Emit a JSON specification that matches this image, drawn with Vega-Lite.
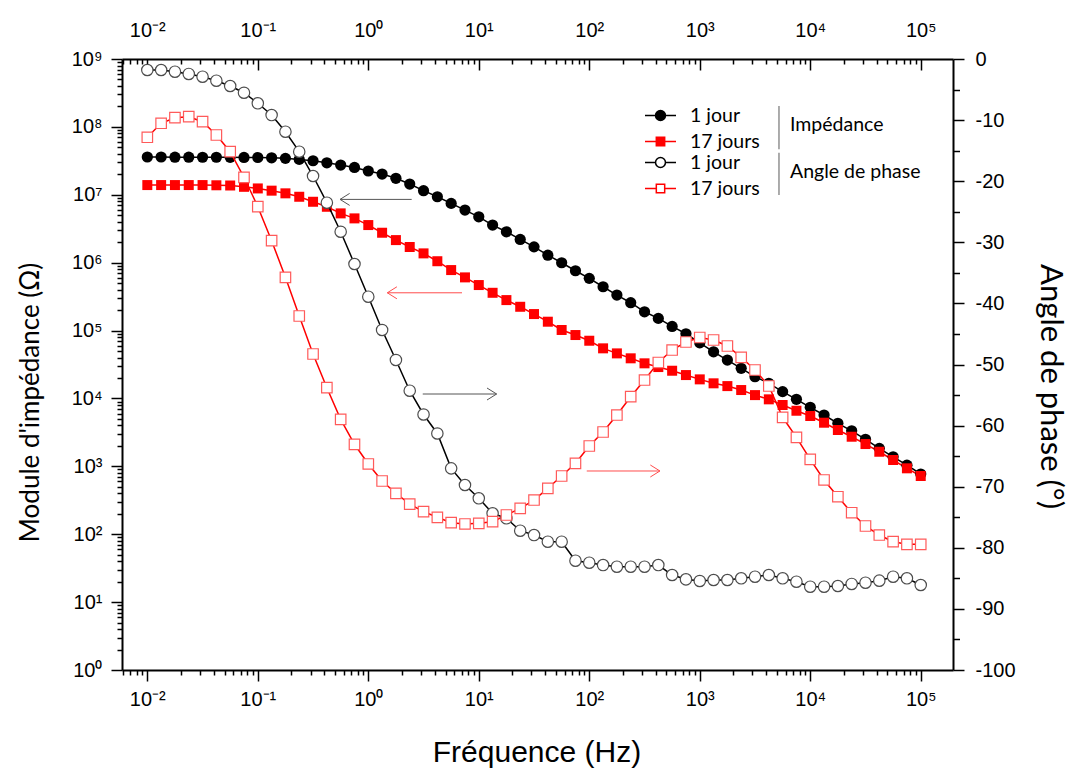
{
 "$schema": "https://vega.github.io/schema/vega-lite/v6.json",
 "width": 831,
 "height": 611,
 "autosize": {"type": "none"},
 "padding": {"left": 122, "top": 59, "right": 117, "bottom": 99},
 "background": "white",
 "config": {
  "view": {"stroke": null},
  "axis": {"domainColor": "#000000", "domainWidth": 2, "tickColor": "#000000", "tickWidth": 1.5, "labelFont": "Liberation Sans", "labelFontSize": 20, "labelColor": "#000000", "titleColor": "#000000", "titleFontWeight": "normal", "grid": false, "labelOverlap": false, "labelFlush": false, "labelBound": false},
  "legend": {"labelFont": "Lato", "labelFontSize": 19.5, "labelColor": "#000000", "titleFont": "Lato", "titleFontSize": 19.5, "titleFontWeight": "normal", "titleColor": "#000000"}
 },
 "datasets": {
  "eis": [
   {"f":0.01,"s":"Z1","v":36000000},{"f":0.013335,"s":"Z1","v":36000000},{"f":0.017783,"s":"Z1","v":35800000},{"f":0.023714,"s":"Z1","v":35800000},{"f":0.031623,"s":"Z1","v":35700000},{"f":0.04217,"s":"Z1","v":35700000},{"f":0.056234,"s":"Z1","v":35600000},{"f":0.074989,"s":"Z1","v":35500000},{"f":0.1,"s":"Z1","v":35400000},{"f":0.13335,"s":"Z1","v":35000000},
   {"f":0.17783,"s":"Z1","v":34400000},{"f":0.23714,"s":"Z1","v":33200000},{"f":0.31623,"s":"Z1","v":31700000},{"f":0.4217,"s":"Z1","v":29600000},{"f":0.56234,"s":"Z1","v":27400000},{"f":0.74989,"s":"Z1","v":25300000},{"f":1,"s":"Z1","v":22400000},{"f":1.3335,"s":"Z1","v":20200000},{"f":1.7783,"s":"Z1","v":17500000},{"f":2.3714,"s":"Z1","v":14400000},
   {"f":3.1623,"s":"Z1","v":11500000},{"f":4.217,"s":"Z1","v":9350000},{"f":5.6234,"s":"Z1","v":7470000},{"f":7.4989,"s":"Z1","v":5950000},{"f":10,"s":"Z1","v":4740000},{"f":13.335,"s":"Z1","v":3580000},{"f":17.783,"s":"Z1","v":2850000},{"f":23.714,"s":"Z1","v":2200000},{"f":31.623,"s":"Z1","v":1710000},{"f":42.17,"s":"Z1","v":1290000},
   {"f":56.234,"s":"Z1","v":997000},{"f":74.989,"s":"Z1","v":760000},{"f":100,"s":"Z1","v":587000},{"f":133.35,"s":"Z1","v":442000},{"f":177.83,"s":"Z1","v":333000},{"f":237.14,"s":"Z1","v":257000},{"f":316.23,"s":"Z1","v":189000},{"f":421.7,"s":"Z1","v":151000},{"f":562.34,"s":"Z1","v":115000},{"f":749.89,"s":"Z1","v":89700},
   {"f":1000,"s":"Z1","v":66000},{"f":1333.5,"s":"Z1","v":48700},{"f":1778.3,"s":"Z1","v":36800},{"f":2371.4,"s":"Z1","v":27800},{"f":3162.3,"s":"Z1","v":20900},{"f":4217,"s":"Z1","v":16700},{"f":5623.4,"s":"Z1","v":12600},{"f":7498.9,"s":"Z1","v":9700},{"f":10000,"s":"Z1","v":7400},{"f":13335,"s":"Z1","v":5700},
   {"f":17783,"s":"Z1","v":4300},{"f":23714,"s":"Z1","v":3340},{"f":31623,"s":"Z1","v":2500},{"f":42170,"s":"Z1","v":1840},{"f":56234,"s":"Z1","v":1380},{"f":74989,"s":"Z1","v":1040},{"f":100000,"s":"Z1","v":771},

   {"f":0.01,"s":"Z17","v":13900000},{"f":0.013335,"s":"Z17","v":13900000},{"f":0.017783,"s":"Z17","v":13900000},{"f":0.023714,"s":"Z17","v":13900000},{"f":0.031623,"s":"Z17","v":13900000},{"f":0.04217,"s":"Z17","v":13800000},{"f":0.056234,"s":"Z17","v":13700000},{"f":0.074989,"s":"Z17","v":13100000},{"f":0.1,"s":"Z17","v":12400000},{"f":0.13335,"s":"Z17","v":11500000},
   {"f":0.17783,"s":"Z17","v":10500000},{"f":0.23714,"s":"Z17","v":9350000},{"f":0.31623,"s":"Z17","v":7890000},{"f":0.4217,"s":"Z17","v":6660000},{"f":0.56234,"s":"Z17","v":5320000},{"f":0.74989,"s":"Z17","v":4490000},{"f":1,"s":"Z17","v":3580000},{"f":1.3335,"s":"Z17","v":2760000},{"f":1.7783,"s":"Z17","v":2150000},{"f":2.3714,"s":"Z17","v":1700000},
   {"f":3.1623,"s":"Z17","v":1370000},{"f":4.217,"s":"Z17","v":1050000},{"f":5.6234,"s":"Z17","v":778000},{"f":7.4989,"s":"Z17","v":607000},{"f":10,"s":"Z17","v":468000},{"f":13.335,"s":"Z17","v":360000},{"f":17.783,"s":"Z17","v":281000},{"f":23.714,"s":"Z17","v":224000},{"f":31.623,"s":"Z17","v":175000},{"f":42.17,"s":"Z17","v":135000},
   {"f":56.234,"s":"Z17","v":102000},{"f":74.989,"s":"Z17","v":85900},{"f":100,"s":"Z17","v":70800},{"f":133.35,"s":"Z17","v":54700},{"f":177.83,"s":"Z17","v":46100},{"f":237.14,"s":"Z17","v":39000},{"f":316.23,"s":"Z17","v":32900},{"f":421.7,"s":"Z17","v":29000},{"f":562.34,"s":"Z17","v":25600},{"f":749.89,"s":"Z17","v":22100},
   {"f":1000,"s":"Z17","v":19100},{"f":1333.5,"s":"Z17","v":16700},{"f":1778.3,"s":"Z17","v":15200},{"f":2371.4,"s":"Z17","v":13300},{"f":3162.3,"s":"Z17","v":11200},{"f":4217,"s":"Z17","v":9700},{"f":5623.4,"s":"Z17","v":8000},{"f":7498.9,"s":"Z17","v":6590},{"f":10000,"s":"Z17","v":5510},{"f":13335,"s":"Z17","v":4390},
   {"f":17783,"s":"Z17","v":3430},{"f":23714,"s":"Z17","v":2730},{"f":31623,"s":"Z17","v":2130},{"f":42170,"s":"Z17","v":1640},{"f":56234,"s":"Z17","v":1240},{"f":74989,"s":"Z17","v":935},{"f":100000,"s":"Z17","v":720},

   {"f":0.01,"s":"P1","v":-1.8},{"f":0.013335,"s":"P1","v":-1.8},{"f":0.017783,"s":"P1","v":-2.08},{"f":0.023714,"s":"P1","v":-2.45},{"f":0.031623,"s":"P1","v":-2.9},{"f":0.04217,"s":"P1","v":-3.55},{"f":0.056234,"s":"P1","v":-4.42},{"f":0.074989,"s":"P1","v":-5.52},{"f":0.1,"s":"P1","v":-7.25},{"f":0.13335,"s":"P1","v":-9.17},
   {"f":0.17783,"s":"P1","v":-11.9},{"f":0.23714,"s":"P1","v":-15.17},{"f":0.31623,"s":"P1","v":-19.15},{"f":0.4217,"s":"P1","v":-23.52},{"f":0.56234,"s":"P1","v":-28.27},{"f":0.74989,"s":"P1","v":-33.55},{"f":1,"s":"P1","v":-38.9},{"f":1.3335,"s":"P1","v":-44.35},{"f":1.7783,"s":"P1","v":-49.26},{"f":2.3714,"s":"P1","v":-54.29},
   {"f":3.1623,"s":"P1","v":-58.18},{"f":4.217,"s":"P1","v":-61.29},{"f":5.6234,"s":"P1","v":-67.0},{"f":7.4989,"s":"P1","v":-69.72},{"f":10,"s":"P1","v":-71.9},{"f":13.335,"s":"P1","v":-74.35},{"f":17.783,"s":"P1","v":-75.17},{"f":23.714,"s":"P1","v":-77.2},{"f":31.623,"s":"P1","v":-77.91},{"f":42.17,"s":"P1","v":-79.0},
   {"f":56.234,"s":"P1","v":-79.0},{"f":74.989,"s":"P1","v":-82.11},{"f":100,"s":"P1","v":-82.44},{"f":133.35,"s":"P1","v":-82.82},{"f":177.83,"s":"P1","v":-83.09},{"f":237.14,"s":"P1","v":-83.09},{"f":316.23,"s":"P1","v":-83.09},{"f":421.7,"s":"P1","v":-82.82},{"f":562.34,"s":"P1","v":-84.45},{"f":749.89,"s":"P1","v":-85.16},
   {"f":1000,"s":"P1","v":-85.43},{"f":1333.5,"s":"P1","v":-85.27},{"f":1778.3,"s":"P1","v":-85.27},{"f":2371.4,"s":"P1","v":-84.99},{"f":3162.3,"s":"P1","v":-84.73},{"f":4217,"s":"P1","v":-84.45},{"f":5623.4,"s":"P1","v":-84.99},{"f":7498.9,"s":"P1","v":-85.55},{"f":10000,"s":"P1","v":-86.37},{"f":13335,"s":"P1","v":-86.37},
   {"f":17783,"s":"P1","v":-86.25},{"f":23714,"s":"P1","v":-85.92},{"f":31623,"s":"P1","v":-85.71},{"f":42170,"s":"P1","v":-85.38},{"f":56234,"s":"P1","v":-84.73},{"f":74989,"s":"P1","v":-84.99},{"f":100000,"s":"P1","v":-86.09},

   {"f":0.01,"s":"P17","v":-12.81},{"f":0.013335,"s":"P17","v":-10.52},{"f":0.017783,"s":"P17","v":-9.61},{"f":0.023714,"s":"P17","v":-9.44},{"f":0.031623,"s":"P17","v":-10.26},{"f":0.04217,"s":"P17","v":-12.44},{"f":0.056234,"s":"P17","v":-15.17},{"f":0.074989,"s":"P17","v":-19.36},{"f":0.1,"s":"P17","v":-24.17},{"f":0.13335,"s":"P17","v":-29.74},
   {"f":0.17783,"s":"P17","v":-35.73},{"f":0.23714,"s":"P17","v":-42.06},{"f":0.31623,"s":"P17","v":-48.28},{"f":0.4217,"s":"P17","v":-53.8},{"f":0.56234,"s":"P17","v":-58.97},{"f":0.74989,"s":"P17","v":-63.06},{"f":1,"s":"P17","v":-66.28},{"f":1.3335,"s":"P17","v":-69.07},{"f":1.7783,"s":"P17","v":-71.08},{"f":2.3714,"s":"P17","v":-72.86},
   {"f":3.1623,"s":"P17","v":-74.09},{"f":4.217,"s":"P17","v":-75.01},{"f":5.6234,"s":"P17","v":-75.89},{"f":7.4989,"s":"P17","v":-76.1},{"f":10,"s":"P17","v":-75.99},{"f":13.335,"s":"P17","v":-75.73},{"f":17.783,"s":"P17","v":-74.63},{"f":23.714,"s":"P17","v":-73.54},{"f":31.623,"s":"P17","v":-72.18},{"f":42.17,"s":"P17","v":-70.26},
   {"f":56.234,"s":"P17","v":-68.25},{"f":74.989,"s":"P17","v":-66.17},{"f":100,"s":"P17","v":-63.34},{"f":133.35,"s":"P17","v":-61.05},{"f":177.83,"s":"P17","v":-58.27},{"f":237.14,"s":"P17","v":-55.27},{"f":316.23,"s":"P17","v":-52.54},{"f":421.7,"s":"P17","v":-49.67},{"f":562.34,"s":"P17","v":-47.63},{"f":749.89,"s":"P17","v":-46.32},
   {"f":1000,"s":"P17","v":-45.58},{"f":1333.5,"s":"P17","v":-45.99},{"f":1778.3,"s":"P17","v":-46.97},{"f":2371.4,"s":"P17","v":-48.82},{"f":3162.3,"s":"P17","v":-50.9},{"f":4217,"s":"P17","v":-53.52},{"f":5623.4,"s":"P17","v":-58.64},{"f":7498.9,"s":"P17","v":-61.92},{"f":10000,"s":"P17","v":-65.52},{"f":13335,"s":"P17","v":-68.9},
   {"f":17783,"s":"P17","v":-71.64},{"f":23714,"s":"P17","v":-74.26},{"f":31623,"s":"P17","v":-76.43},{"f":42170,"s":"P17","v":-77.91},{"f":56234,"s":"P17","v":-79.0},{"f":74989,"s":"P17","v":-79.43},{"f":100000,"s":"P17","v":-79.43}
  ]
 },
 "data": {"name": "eis"},
 "layer": [
  {
   "encoding": {
    "x": {"field": "f", "type": "quantitative",
     "scale": {"type": "log", "domain": [0.0059, 195900], "nice": false},
     "axis": {"orient": "bottom", "title": "Fréquence (Hz)", "titleFont": "Liberation Sans", "titleFontSize": 30, "titleX": 414.5, "titleY": 82, "titleBaseline": "middle", "titleAlign": "center", "titleAngle": 0,
      "values": [0.006,0.007,0.008,0.009,0.01,0.02,0.03,0.04,0.05,0.06,0.07,0.08,0.09,0.1,0.2,0.3,0.4,0.5,0.6,0.7,0.8,0.9,1,2,3,4,5,6,7,8,9,10,20,30,40,50,60,70,80,90,100,200,300,400,500,600,700,800,900,1000,2000,3000,4000,5000,6000,7000,8000,9000,10000,20000,30000,40000,50000,60000,70000,80000,90000,100000],
      "labelExpr": "abs(log(datum.value)/LN10 - round(log(datum.value)/LN10)) < 0.001 ? (round(log(datum.value)/LN10) < 0 ? '10⁻' + ['⁰','¹','²','³','⁴','⁵','⁶','⁷','⁸','⁹'][-round(log(datum.value)/LN10)] : '10' + ['⁰','¹','²','³','⁴','⁵','⁶','⁷','⁸','⁹'][round(log(datum.value)/LN10)]) : ''",
      "labelBaseline": "top", "labelPadding": 8,
      "tickSize": {"condition": {"test": "abs(log(datum.value)/LN10 - round(log(datum.value)/LN10)) < 0.001", "value": 11}, "value": 5}}},
    "y": {"field": "v", "type": "quantitative",
     "scale": {"type": "log", "domain": [1, 1000000000], "nice": false},
     "axis": {"orient": "left", "title": "Module d'impédance (Ω)", "titleFont": "Lato", "titleFontSize": 26, "titleX": -92, "titleY": 343, "titleAngle": -90, "titleBaseline": "middle", "titleAlign": "center",
      "values": [1,2,3,4,5,6,7,8,9,10,20,30,40,50,60,70,80,90,100,200,300,400,500,600,700,800,900,1000,2000,3000,4000,5000,6000,7000,8000,9000,10000,20000,30000,40000,50000,60000,70000,80000,90000,100000,200000,300000,400000,500000,600000,700000,800000,900000,1000000,2000000,3000000,4000000,5000000,6000000,7000000,8000000,9000000,10000000,20000000,30000000,40000000,50000000,60000000,70000000,80000000,90000000,100000000,200000000,300000000,400000000,500000000,600000000,700000000,800000000,900000000,1000000000],
      "labelExpr": "abs(log(datum.value)/LN10 - round(log(datum.value)/LN10)) < 0.001 ? '10' + ['⁰','¹','²','³','⁴','⁵','⁶','⁷','⁸','⁹'][round(log(datum.value)/LN10)] : ''",
      "labelPadding": 9,
      "tickSize": {"condition": {"test": "abs(log(datum.value)/LN10 - round(log(datum.value)/LN10)) < 0.001", "value": 11}, "value": 5}}}
   },
   "layer": [
    {"transform": [{"filter": "datum.s === 'Z1' || datum.s === 'Z17'"}],
     "mark": {"type": "line", "strokeWidth": 1.5},
     "encoding": {"color": {"field": "s", "type": "nominal", "scale": {"domain": ["Z1", "Z17"], "range": ["#000000", "#ff0000"]},
      "legend": {"title": "Impédance", "orient": "none", "legendX": 522, "legendY": 40, "direction": "vertical", "titleOrient": "right", "titleAnchor": "middle", "titleBaseline": "middle", "titlePadding": 30, "padding": 0, "rowPadding": -7, "labelOffset": 13, "symbolSize": 961,
       "labelExpr": "datum.value === 'Z1' ? '1 jour' : '17 jours'",
       "encode": {"symbols": {"update": {
        "shape": {"signal": "datum.value === 'Z1' ? 'M-1,0H-0.32M0.32,0H1M0.32,0A0.32,0.32,0,1,1,-0.32,0A0.32,0.32,0,1,1,0.32,0Z' : 'M-1,0H-0.27M0.27,0H1M-0.27,-0.27H0.27V0.27H-0.27Z'"},
        "fill": {"signal": "datum.value === 'Z1' ? '#000000' : '#ff0000'"},
        "stroke": {"signal": "datum.value === 'Z1' ? '#000000' : '#ff0000'"},
        "strokeWidth": {"value": 1.5}, "size": {"value": 961}, "opacity": {"value": 1}, "fillOpacity": {"value": 1}, "strokeOpacity": {"value": 1}}}}}}}},
    {"transform": [{"filter": "datum.s === 'Z1'"}],
     "mark": {"type": "point", "shape": "circle", "filled": true, "color": "#000000", "size": 126, "opacity": 1}},
    {"transform": [{"filter": "datum.s === 'Z17'"}],
     "mark": {"type": "point", "shape": "square", "filled": true, "color": "#ff0000", "size": 100, "opacity": 1}},
    {"transform": [{"filter": "datum.s === 'Z1' && datum.f === 0.01"}], "mark": {"type": "rule", "color": "#555555", "strokeWidth": 1},
     "encoding": {"x": {"datum": 0.555, "type": "quantitative"}, "x2": {"datum": 2.47}, "y": {"datum": 8550000, "type": "quantitative"}}},
    {"transform": [{"filter": "datum.s === 'Z1' && datum.f === 0.01"}], "mark": {"type": "point", "shape": "M1.6,-1L0,0L1.6,1", "filled": false, "stroke": "#555555", "strokeWidth": 1, "size": 144, "opacity": 1},
     "encoding": {"x": {"datum": 0.555, "type": "quantitative"}, "y": {"datum": 8550000, "type": "quantitative"}}},
    {"transform": [{"filter": "datum.s === 'Z1' && datum.f === 0.01"}], "mark": {"type": "rule", "color": "#ff4d4d", "strokeWidth": 1},
     "encoding": {"x": {"datum": 1.486, "type": "quantitative"}, "x2": {"datum": 7.05}, "y": {"datum": 360000, "type": "quantitative"}}},
    {"transform": [{"filter": "datum.s === 'Z1' && datum.f === 0.01"}], "mark": {"type": "point", "shape": "M1.6,-1L0,0L1.6,1", "filled": false, "stroke": "#ff4d4d", "strokeWidth": 1, "size": 144, "opacity": 1},
     "encoding": {"x": {"datum": 1.486, "type": "quantitative"}, "y": {"datum": 360000, "type": "quantitative"}}}
   ]
  },
  {
   "encoding": {
    "x": {"field": "f", "type": "quantitative",
     "scale": {"type": "log", "domain": [0.0059, 195900], "nice": false},
     "axis": {"orient": "top", "title": null,
      "values": [0.006,0.007,0.008,0.009,0.01,0.02,0.03,0.04,0.05,0.06,0.07,0.08,0.09,0.1,0.2,0.3,0.4,0.5,0.6,0.7,0.8,0.9,1,2,3,4,5,6,7,8,9,10,20,30,40,50,60,70,80,90,100,200,300,400,500,600,700,800,900,1000,2000,3000,4000,5000,6000,7000,8000,9000,10000,20000,30000,40000,50000,60000,70000,80000,90000,100000],
      "labelExpr": "abs(log(datum.value)/LN10 - round(log(datum.value)/LN10)) < 0.001 ? (round(log(datum.value)/LN10) < 0 ? '10⁻' + ['⁰','¹','²','³','⁴','⁵','⁶','⁷','⁸','⁹'][-round(log(datum.value)/LN10)] : '10' + ['⁰','¹','²','³','⁴','⁵','⁶','⁷','⁸','⁹'][round(log(datum.value)/LN10)]) : ''",
      "labelBaseline": "bottom", "labelPadding": 30,
      "tickSize": {"condition": {"test": "abs(log(datum.value)/LN10 - round(log(datum.value)/LN10)) < 0.001", "value": -11}, "value": -5}}},
    "y": {"field": "v", "type": "quantitative",
     "scale": {"type": "linear", "domain": [-100, 0], "nice": false},
     "axis": {"orient": "right", "title": "Angle de phase (°)", "titleFont": "Lato", "titleFontSize": 31, "titleX": 96, "titleY": 327, "titleAngle": 90, "titleBaseline": "middle", "titleAlign": "center",
      "values": [-100,-95,-90,-85,-80,-75,-70,-65,-60,-55,-50,-45,-40,-35,-30,-25,-20,-15,-10,-5,0],
      "labelExpr": "datum.value % 10 === 0 ? '' + datum.value : ''",
      "labelPadding": 11,
      "tickSize": {"condition": {"test": "datum.value % 10 === 0", "value": 11}, "value": 6.5}}}
   },
   "layer": [
    {"transform": [{"filter": "datum.s === 'P1' || datum.s === 'P17'"}],
     "mark": {"type": "line", "strokeWidth": 1.5},
     "encoding": {"color": {"field": "s", "type": "nominal", "scale": {"domain": ["P1", "P17"], "range": ["#000000", "#ff0000"]},
      "legend": {"title": "Angle de phase", "orient": "none", "legendX": 522, "legendY": 87, "direction": "vertical", "titleOrient": "right", "titleAnchor": "middle", "titleBaseline": "middle", "titlePadding": 30, "padding": 0, "rowPadding": -7, "labelOffset": 13, "symbolSize": 961,
       "labelExpr": "datum.value === 'P1' ? '1 jour' : '17 jours'",
       "encode": {"symbols": {"update": {
        "shape": {"signal": "datum.value === 'P1' ? 'M-1,0H-0.32M0.32,0H1M0.32,0A0.32,0.32,0,1,1,-0.32,0A0.32,0.32,0,1,1,0.32,0Z' : 'M-1,0H-0.27M0.27,0H1M-0.27,-0.27H0.27V0.27H-0.27Z'"},
        "fill": {"value": "#ffffff"},
        "stroke": {"signal": "datum.value === 'P1' ? '#333333' : '#ff0000'"},
        "strokeWidth": {"value": 1.5}, "size": {"value": 961}, "opacity": {"value": 1}, "fillOpacity": {"value": 1}, "strokeOpacity": {"value": 1}}}}}}}},
    {"transform": [{"filter": "datum.s === 'P1'"}],
     "mark": {"type": "point", "shape": "circle", "filled": true, "fill": "#ffffff", "stroke": "#4d4d4d", "strokeWidth": 1.2, "size": 130, "opacity": 1}},
    {"transform": [{"filter": "datum.s === 'P17'"}],
     "mark": {"type": "point", "shape": "square", "filled": true, "fill": "#ffffff", "stroke": "#ff5a5a", "strokeWidth": 1.2, "size": 110, "opacity": 1}},
    {"transform": [{"filter": "datum.s === 'P1' && datum.f === 0.01"}], "mark": {"type": "rule", "color": "#555555", "strokeWidth": 1},
     "encoding": {"x": {"datum": 3.11, "type": "quantitative"}, "x2": {"datum": 14.5}, "y": {"datum": -54.83, "type": "quantitative"}}},
    {"transform": [{"filter": "datum.s === 'P1' && datum.f === 0.01"}], "mark": {"type": "point", "shape": "M-1.6,-1L0,0L-1.6,1", "filled": false, "stroke": "#555555", "strokeWidth": 1, "size": 144, "opacity": 1},
     "encoding": {"x": {"datum": 14.5, "type": "quantitative"}, "y": {"datum": -54.83, "type": "quantitative"}}},
    {"transform": [{"filter": "datum.s === 'P1' && datum.f === 0.01"}], "mark": {"type": "rule", "color": "#ff4d4d", "strokeWidth": 1},
     "encoding": {"x": {"datum": 94.9, "type": "quantitative"}, "x2": {"datum": 436}, "y": {"datum": -67.43, "type": "quantitative"}}},
    {"transform": [{"filter": "datum.s === 'P1' && datum.f === 0.01"}], "mark": {"type": "point", "shape": "M-1.6,-1L0,0L-1.6,1", "filled": false, "stroke": "#ff4d4d", "strokeWidth": 1, "size": 144, "opacity": 1},
     "encoding": {"x": {"datum": 436, "type": "quantitative"}, "y": {"datum": -67.43, "type": "quantitative"}}},
    {"transform": [{"filter": "datum.s === 'P1' && datum.f === 0.01"}], "mark": {"type": "rule", "color": "#7f7f7f", "strokeWidth": 1.3},
     "encoding": {"x": {"datum": 5212, "type": "quantitative"}, "y": {"datum": -7.69, "type": "quantitative"}, "y2": {"datum": -14.78}}},
    {"transform": [{"filter": "datum.s === 'P1' && datum.f === 0.01"}], "mark": {"type": "rule", "color": "#7f7f7f", "strokeWidth": 1.3},
     "encoding": {"x": {"datum": 5212, "type": "quantitative"}, "y": {"datum": -15.34, "type": "quantitative"}, "y2": {"datum": -22.26}}}
   ]
  }
 ],
 "resolve": {"scale": {"y": "independent", "color": "independent"}, "axis": {"x": "independent", "y": "independent"}}
}
